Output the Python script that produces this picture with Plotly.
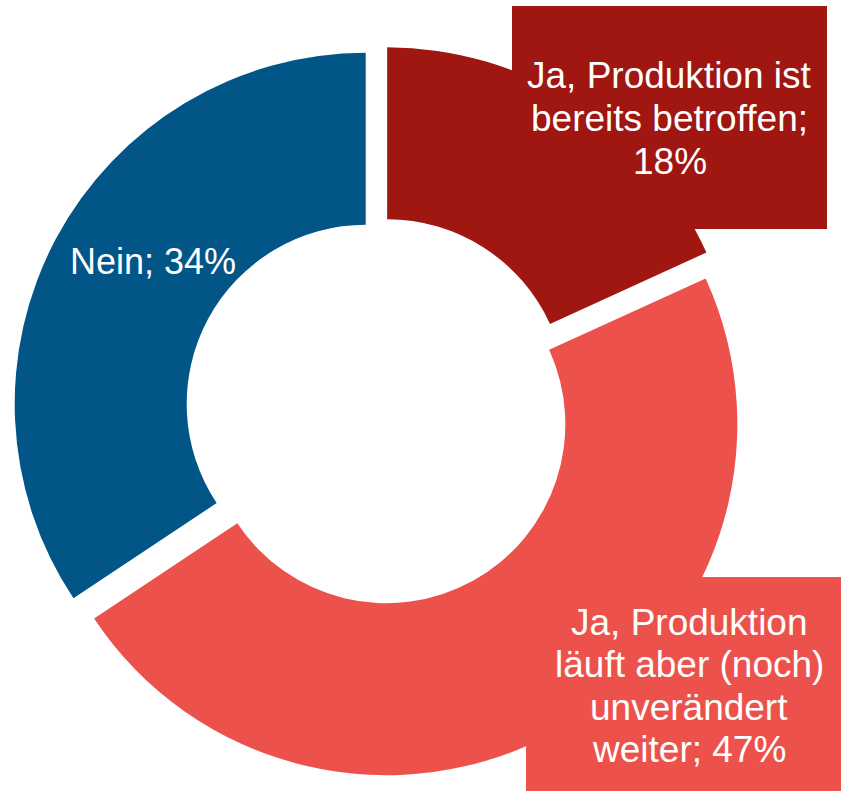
import plotly.graph_objects as go

labels = ["Ja, Produktion ist bereits betroffen", "Ja, Produktion läuft aber (noch) unverändert weiter", "Nein"]
values = [18, 47, 34]
colors = ["#A01611", "#EC524B", "#025687"]
label_lines = [
    ["Ja, Produktion ist", "bereits betroffen;", "18%"],
    ["Ja, Produktion", "läuft aber (noch)", "unverändert", "weiter; 47%"],
    ["Nein; 34%"],
]

W, H = 841, 791
OFF = 0  # body margin removed via post_script
cx, cy = 379 - OFF, 411 - OFF
pull = 0.043
R = 351
base = R * (1 + pull)

fig = go.Figure(go.Pie(
    labels=labels,
    values=values,
    marker=dict(colors=colors, line=dict(width=0)),
    hole=0.51,
    pull=pull,
    sort=False,
    direction="clockwise",
    rotation=0,
    textinfo="none",
    hoverinfo="label+percent",
    showlegend=False,
    domain=dict(x=[(cx - base) / W, (cx + base) / W],
                y=[(H - cy - base) / H, (H - cy + base) / H]),
))

def px(x):
    return (x - OFF) / W

def py(y):
    return 1 - (y - OFF) / H

# label boxes (screen pixel extents)
boxes = [(512, 6, 827, 229), (526, 577, 860, 800)]
for (x0, y0, x1, y1), col in zip(boxes, colors[:2]):
    fig.add_shape(type="rect", xref="paper", yref="paper",
                  x0=px(x0), x1=px(x1), y0=py(y1), y1=py(y0),
                  fillcolor=col, line=dict(width=0), layer="above")

def add_lines(lines, xc, baselines, size):
    for t, b in zip(lines, baselines):
        fig.add_annotation(text=t, xref="paper", yref="paper",
                           x=px(xc), y=py(b - 0.3465 * size),
                           xanchor="center", yanchor="middle",
                           showarrow=False, borderpad=0,
                           font=dict(family="Liberation Sans, Arial, sans-serif",
                                     size=size, color="white"))

add_lines(label_lines[0], 669.5, [88, 131, 174], 37)
add_lines(label_lines[1], 689, [635, 677.5, 720, 762.5], 37)
add_lines(label_lines[2], 153, [274], 36)

fig.update_layout(width=W, height=H, margin=dict(l=0, r=0, t=0, b=0),
                  paper_bgcolor="white", plot_bgcolor="white")
fig.write_html("out.html", config={"displayModeBar": False},
               post_script="document.body.style.margin='0';document.body.style.overflow='hidden';")
